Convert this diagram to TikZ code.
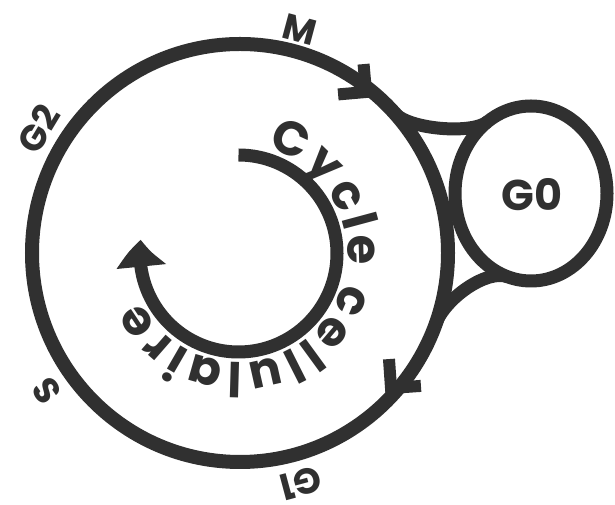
\documentclass[tikz,border=0pt]{standalone}
\usepackage{fontspec}
\setmainfont{Poppins}
\usetikzlibrary{arrows.meta,bending,calc,decorations.text}
\definecolor{ink}{RGB}{48,48,48}
\begin{document}
\begin{tikzpicture}[x=1pt,y=1pt,
  ring/.style={draw=ink, line width=14pt},
  lab/.style={text=ink, font=\fontsize{36pt}{36pt}\selectfont\bfseries, inner sep=0pt},
  barb/.style={draw=ink, line width=12pt, line cap=butt, line join=miter}]
\useasboundingbox[fill=white] (0,0) rectangle (615,505);
\coordinate (mc) at (240,252);
\coordinate (gc) at (531,311.5);
\coordinate (ic) at (238.5,251.5);
% main cycle
\draw[ring] (mc) ellipse [x radius=208pt, y radius=209pt];
% G0 loop
\draw[ring, line width=13pt] (gc) ellipse [x radius=76pt, y radius=87.5pt];
\node[lab, font=\fontsize{43pt}{43pt}\selectfont\bfseries] (g0) at (532,310) {G0};
% fillets
\coordinate (p1) at ($(mc)+(42:208pt and 209pt)$);
\coordinate (p2) at ($(gc)+(125:76pt and 87.5pt)$);
\draw[ring, line width=13pt] (p1) .. controls ($(p1)+(-48:22pt)$) and ($(p2)+(219:20pt)$) .. (p2);
\coordinate (q1) at ($(gc)+(-108:76pt and 87.5pt)$);
\coordinate (q2) at ($(mc)+(-20:208pt and 209pt)$);
\draw[ring, line width=13pt] (q1) .. controls ($(q1)+(159.5:22pt)$) and ($(q2)+(70:28pt)$) .. (q2);
% arrowheads on the main cycle
\coordinate (ma) at (366,413);
\draw[barb] ($(ma)+(95:28pt)$) -- (ma) -- ($(ma)+(185:28pt)$);
\coordinate (ga) at (391,117);
\draw[barb] ($(ga)+(94:29pt)$) -- (ga) -- ($(ga)+(4:30pt)$);
% phase labels
\node[lab, rotate=-15] (m) at (300,475) {M};
\node[lab, rotate=59] (g2) at (38,376) {G2};
\node[lab, rotate=125] (s) at (47,114) {S};
\node[lab, rotate=-165] (g1) at (301,22) {G1};
% inner arrow
\draw[draw=ink, line width=13pt, -{Triangle[width=48pt,length=27pt,bend]}, color=ink]
  ($(ic)+(90:98.5pt)$) arc[start angle=90, end angle=-188, radius=98.5pt];
\path[decorate, decoration={text along path,
    text={|\fontsize{48pt}{48pt}\selectfont\bfseries\color{ink}|Cycle cellulaire},
    text align={fit to path}}]
  ($(ic)+(75:109pt)$) arc[start angle=75, end angle=-154, radius=109pt];
\end{tikzpicture}
\end{document}
